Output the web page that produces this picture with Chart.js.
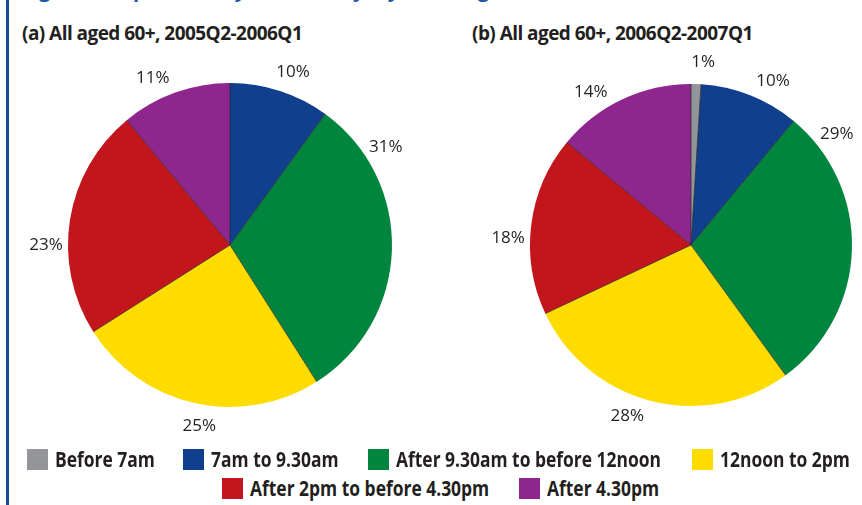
<!DOCTYPE html>
<html>
<head>
<meta charset="utf-8">
<script src="https://cdn.jsdelivr.net/npm/chart.js@4"></script>
<style>
  html, body { margin: 0; padding: 0; background: #fff; }
  body { width: 862px; height: 505px; position: relative; overflow: hidden; font-family: "Open Sans", sans-serif; color: #231f20; }
  .rule { position: absolute; left: 6px; top: 0; width: 3px; height: 505px; background: #1b4a9b; }
  .fig { position: absolute; left: 22px; top: -24px; font: bold 20px "Open Sans", sans-serif; color: #2456a6; white-space: nowrap; }
  .title { position: absolute; top: 20px; font: bold 19px "Open Sans", sans-serif; letter-spacing: -0.55px; white-space: nowrap; }
  canvas { position: absolute; }
  .leg { position: absolute; display: flex; align-items: center; white-space: nowrap; }
  .leg i { display: inline-block; width: 21px; height: 21px; margin-right: 7px; flex: none; }
  .leg span { display: inline-block; font: bold 21px "Open Sans", sans-serif; transform: scaleX(0.83); transform-origin: left center; }
</style>
</head>
<body>
<div class="rule"></div>
<div class="fig">Figure 5 Trips made by time of day, by those aged 60+</div>
<div class="title" style="left:22px">(a) All aged 60+, 2005Q2-2006Q1</div>
<div class="title" style="left:472px">(b) All aged 60+, 2006Q2-2007Q1</div>
<canvas id="pieA" width="460" height="410" style="left:0;top:40px"></canvas>
<canvas id="pieB" width="402" height="410" style="left:460px;top:40px"></canvas>
<div id="legend"></div>
<script>
// ── Categories and colours ──
const CATEGORIES = ["Before 7am", "7am to 9.30am", "After 9.30am to before 12noon",
                    "12noon to 2pm", "After 2pm to before 4.30pm", "After 4.30pm"];
const COLORS = ["#939598", "#0f3f8d", "#00853f", "#fedc00", "#c3161c", "#8f268e"];

// ── Shares (%) per period ──
const SHARE_2005 = [0, 10, 31, 25, 23, 11];
const SHARE_2006 = [1, 10, 29, 28, 18, 14];

// label angle nudges (degrees), green labels sit up towards the top right
const NUDGE_A = [0, 2, -34, -3, -9, -5];
const NUDGE_B = [2, 5, -39, 6, -5, -8];

const labelPlugin = {
  id: "pctLabels",
  afterDatasetsDraw(chart) {
    const ctx = chart.ctx;
    const meta = chart.getDatasetMeta(0);
    const vals = chart.data.datasets[0].data;
    const nudge = chart.options.plugins.pctLabels.nudge;
    ctx.save();
    // thin dark separators between slices
    meta.data.forEach((arc, i) => {
      if (!vals[i]) return;
      ctx.beginPath();
      ctx.moveTo(arc.x, arc.y);
      ctx.lineTo(arc.x + arc.outerRadius * Math.cos(arc.startAngle),
                 arc.y + arc.outerRadius * Math.sin(arc.startAngle));
      ctx.lineWidth = 1;
      ctx.strokeStyle = "rgba(40,40,40,0.75)";
      ctx.stroke();
    });
    ctx.font = "17px 'Open Sans'";
    ctx.fillStyle = "#231f20";
    ctx.textAlign = "center";
    ctx.textBaseline = "middle";
    meta.data.forEach((arc, i) => {
      if (!vals[i]) return;
      const a = (arc.startAngle + arc.endAngle) / 2 + nudge[i] * Math.PI / 180;
      const d = arc.outerRadius + 22;
      ctx.fillText(vals[i] + "%", arc.x + d * Math.cos(a), arc.y + d * Math.sin(a));
    });
    ctx.restore();
  }
};

function makePie(id, data, nudge, padding) {
  return new Chart(document.getElementById(id), {
    type: "pie",
    data: {
      labels: CATEGORIES,
      datasets: [{ data: data, backgroundColor: COLORS, borderWidth: 0 }]
    },
    options: {
      responsive: false,
      animation: false,
      layout: { padding: padding },
      plugins: {
        legend: { display: false },
        tooltip: { enabled: false },
        pctLabels: { nudge: nudge }
      }
    },
    plugins: [labelPlugin]
  });
}

makePie("pieA", SHARE_2005, NUDGE_A, { left: 68, right: 68, top: 43, bottom: 43 });
makePie("pieB", SHARE_2006, NUDGE_B, { left: 70, right: 10, top: 44, bottom: 44 });

// ── Legend (two rows) ──
const LEG_POS = [[27, 445], [183, 445], [368, 445], [692, 445], [222, 474], [519, 474]];
const legend = document.getElementById("legend");
CATEGORIES.forEach((c, i) => {
  const d = document.createElement("div");
  d.className = "leg";
  d.style.left = LEG_POS[i][0] + "px";
  d.style.top = LEG_POS[i][1] + "px";
  d.innerHTML = `<i style="background:${COLORS[i]}"></i><span>${c}</span>`;
  legend.appendChild(d);
});
</script>
</body>
</html>
